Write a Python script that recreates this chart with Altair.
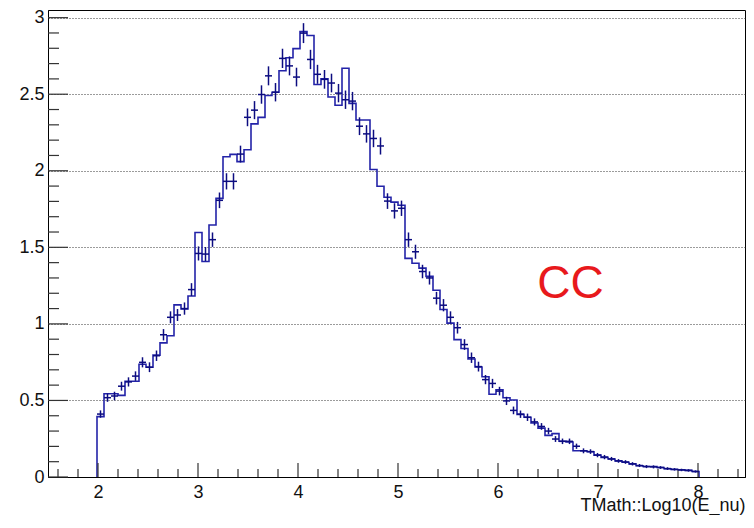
import altair as alt
import pandas as pd

# ---- data ----
first_edge = 1.99
bin_width = 0.07

hist_values = [0.394, 0.544, 0.544, 0.533, 0.625, 0.625, 0.736, 0.717, 0.796, 0.876,
               0.923, 1.124, 1.098, 1.182, 1.597, 1.407, 1.646, 1.82, 2.092, 2.107,
               2.06, 2.137, 2.306, 2.349, 2.492, 2.513, 2.653, 2.738, 2.798, 2.909,
               2.883, 2.563, 2.60, 2.482, 2.428, 2.67, 2.44, 2.332, 2.332, 2.008,
               1.899, 1.827, 1.795, 1.775, 1.428, 1.396, 1.364, 1.31, 1.22, 1.094,
               1.005, 0.897, 0.839, 0.771, 0.718, 0.655, 0.54, 0.57, 0.518, 0.503,
               0.409, 0.39, 0.353, 0.319, 0.272, 0.283, 0.233, 0.229, 0.171, 0.171,
               0.165, 0.143, 0.128, 0.118, 0.105, 0.096, 0.086, 0.073, 0.069, 0.069,
               0.062, 0.054, 0.049, 0.047, 0.043, 0.036]

point_values = [0.411, 0.518, 0.529, 0.593, 0.621, 0.659, 0.749, 0.717, 0.792, 0.929,
                1.043, 1.058, 1.100, 1.224, 1.46, 1.456, 1.55, 1.807, 1.931, 1.931,
                2.109, 2.349, 2.396, 2.498, 2.62, 2.513, 2.734, 2.685, 2.612, 2.899,
                2.727, 2.63, 2.597, 2.573, 2.507, 2.464, 2.455, 2.291, 2.241, 2.211,
                2.162, 1.802, 1.738, 1.755, 1.55, 1.471, 1.342, 1.300, 1.168, 1.122,
                1.043, 0.975, 0.865, 0.779, 0.721, 0.636, 0.611, 0.561, 0.497, 0.435,
                0.41, 0.39, 0.36, 0.33, 0.30, 0.248, 0.233, 0.233, 0.201, 0.171,
                0.166, 0.143, 0.13, 0.118, 0.105, 0.098, 0.086, 0.075, 0.068, 0.066,
                0.062, 0.055, 0.05, 0.046, 0.043, 0.036]

point_errors = [0.024, 0.027, 0.028, 0.029, 0.030, 0.031, 0.033, 0.032, 0.034, 0.037,
                0.039, 0.039, 0.040, 0.042, 0.046, 0.046, 0.047, 0.051, 0.053, 0.053,
                0.055, 0.058, 0.059, 0.060, 0.062, 0.060, 0.063, 0.062, 0.061, 0.065,
                0.063, 0.062, 0.061, 0.061, 0.060, 0.060, 0.060, 0.058, 0.057, 0.057,
                0.056, 0.051, 0.050, 0.050, 0.047, 0.046, 0.044, 0.043, 0.041, 0.040,
                0.039, 0.038, 0.035, 0.034, 0.032, 0.030, 0.030, 0.028, 0.027, 0.025,
                0.024, 0.024, 0.023, 0.022, 0.021, 0.019, 0.018, 0.018, 0.017, 0.016,
                0.015, 0.014, 0.014, 0.013, 0.012, 0.012, 0.011, 0.010, 0.010, 0.010,
                0.009, 0.009, 0.008, 0.008, 0.008, 0.007]

x_major = [2, 3, 4, 5, 6, 7, 8]
x_minor = [1.6, 1.8, 2.2, 2.4, 2.6, 2.8, 3.2, 3.4, 3.6, 3.8, 4.2, 4.4, 4.6, 4.8,
           5.2, 5.4, 5.6, 5.8, 6.2, 6.4, 6.6, 6.8, 7.2, 7.4, 7.6, 7.8, 8.2, 8.4]
y_major = [0, 0.5, 1, 1.5, 2, 2.5, 3]
y_minor = [0.1, 0.2, 0.3, 0.4, 0.6, 0.7, 0.8, 0.9, 1.1, 1.2, 1.3, 1.4,
           1.6, 1.7, 1.8, 1.9, 2.1, 2.2, 2.3, 2.4, 2.6, 2.7, 2.8, 2.9]

label_text = ["CC"]
label_x = [6.725]
label_y = [1.17]

x_title = "TMath::Log10(E_nu)"

# ---- tables ----
n = len(hist_values)
lo = [round(first_edge + bin_width * j, 4) for j in range(n)]
hi = [round(first_edge + bin_width * (j + 1), 4) for j in range(n)]
mid = [round((a + b) / 2, 4) for a, b in zip(lo, hi)]

step_x = [lo[0]] + lo + [hi[-1]]
step_y = [0.0] + hist_values + [0.0]
step_df = pd.DataFrame({"x": step_x, "y": step_y, "i": list(range(len(step_x)))})

pts_df = pd.DataFrame({
    "lo": lo, "hi": hi, "mid": mid, "v": point_values,
    "vlo": [v - e for v, e in zip(point_values, point_errors)],
    "vhi": [v + e for v, e in zip(point_values, point_errors)],
})

W, H = 697, 467
FONT = "Liberation Sans"
LINE_COL = "#2323a8"
PT_COL = "#0c0c80"
TICK_COL = "#333333"

XS = alt.Scale(domain=[1.5, 8.47], nice=False, zero=False)
YS = alt.Scale(domain=[0, 3.05], nice=False, zero=False)

XA = alt.Axis(
    values=x_major, format="d", title=x_title, ticks=False, grid=False,
    labelFont=FONT, labelFontSize=18, labelColor="#111", labelPadding=6,
    titleFont=FONT, titleFontSize=18, titleFontWeight="normal", titleColor="#111",
    titleX=W, titleY=33, titleAlign="right", titleBaseline="alphabetic",
    domainColor="black", domainWidth=1)
YA = alt.Axis(
    values=y_major, format="~g", title=None, ticks=False, grid=True,
    gridDash=[1, 2], gridColor="#222", gridWidth=1, gridOpacity=0.9,
    labelFont=FONT, labelFontSize=18, labelColor="#111", labelPadding=4,
    domainColor="black", domainWidth=1)

step = alt.Chart(step_df).mark_line(
    interpolate="step-after", color=LINE_COL, strokeWidth=1.6
).encode(
    x=alt.X("x:Q", scale=XS, axis=XA, title=x_title),
    y=alt.Y("y:Q", scale=YS, axis=YA, title=None),
    order="i:Q",
)

hbar = alt.Chart(pts_df).mark_rule(color=PT_COL, strokeWidth=1.5).encode(
    x=alt.X("lo:Q", scale=XS, axis=XA, title=x_title), x2="hi:Q",
    y=alt.Y("v:Q", scale=YS, axis=YA, title=None),
)
vbar = alt.Chart(pts_df).mark_rule(color=PT_COL, strokeWidth=1.5).encode(
    x=alt.X("mid:Q", scale=XS, axis=XA, title=x_title),
    y=alt.Y("vlo:Q", scale=YS, axis=YA, title=None), y2="vhi:Q",
)

ymaj_df = pd.DataFrame({"v": y_major})
ymin_df = pd.DataFrame({"v": y_minor})
xmaj_df = pd.DataFrame({"v": x_major})
xmin_df = pd.DataFrame({"v": x_minor})

ytm = alt.Chart(ymaj_df).mark_rule(color=TICK_COL, strokeWidth=1.2).encode(
    y=alt.Y("v:Q", scale=YS, axis=YA, title=None), x=alt.value(0), x2=alt.value(20))
ytn = alt.Chart(ymin_df).mark_rule(color=TICK_COL, strokeWidth=1.2).encode(
    y=alt.Y("v:Q", scale=YS, axis=YA, title=None), x=alt.value(0), x2=alt.value(11))
xtm = alt.Chart(xmaj_df).mark_rule(color=TICK_COL, strokeWidth=1.2).encode(
    x=alt.X("v:Q", scale=XS, axis=XA, title=x_title), y=alt.value(H), y2=alt.value(H - 14))
xtn = alt.Chart(xmin_df).mark_rule(color=TICK_COL, strokeWidth=1.2).encode(
    x=alt.X("v:Q", scale=XS, axis=XA, title=x_title), y=alt.value(H), y2=alt.value(H - 8))

lab_df = pd.DataFrame({"x": label_x, "y": label_y, "t": label_text})
label = alt.Chart(lab_df).mark_text(
    font=FONT, fontSize=46, color="#e8191c", align="center", baseline="alphabetic"
).encode(
    x=alt.X("x:Q", scale=XS, axis=XA, title=x_title),
    y=alt.Y("y:Q", scale=YS, axis=YA, title=None),
    text="t:N",
)

chart = alt.layer(step, ytm, ytn, xtm, xtn, hbar, vbar, label).properties(
    width=W, height=H,
    padding={"left": 40, "top": 2, "right": 1, "bottom": 38},
    autosize=alt.AutoSizeParams(type="none"),
    background="white",
).configure_view(stroke="black", strokeWidth=1)

chart.save("out.html", embed_options={"renderer": "svg", "actions": False})
